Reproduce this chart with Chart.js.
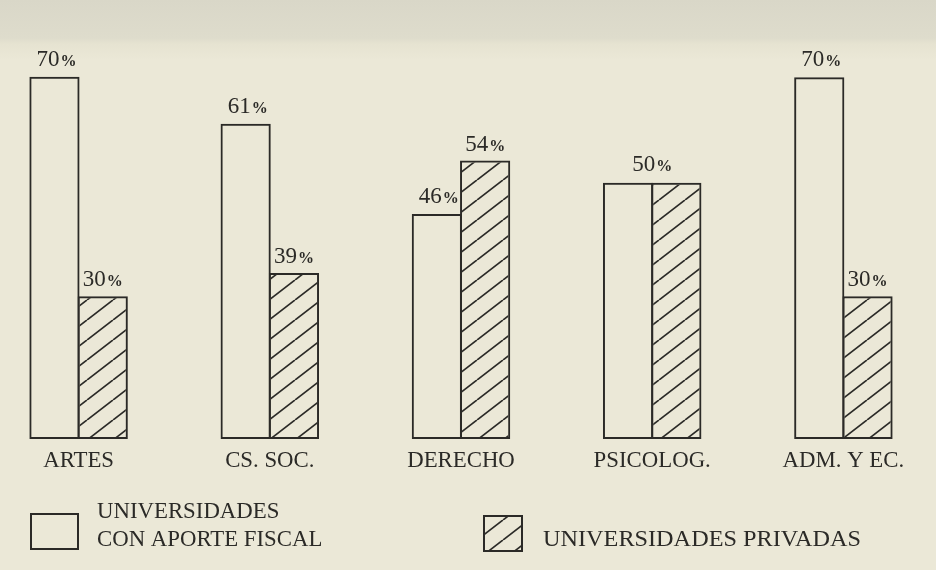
<!DOCTYPE html>
<html>
<head>
<meta charset="utf-8">
<script src="https://cdn.jsdelivr.net/npm/chart.js@4.4.1/dist/chart.umd.min.js"></script>
<style>
  html, body { margin: 0; padding: 0; width: 936px; height: 570px; overflow: hidden; }
  body { background: linear-gradient(to bottom, #d9d7c8 0px, #dedccc 38px, #e6e3d1 44px, #ebe8d7 60px, #ebe8d7 100%); }
  #wrap { position: absolute; left: -17px; top: 0; width: 956px; height: 570px; }
</style>
</head>
<body>
<div id="wrap"><canvas id="chart" width="956" height="570"></canvas></div>
<script>
const categories = ['ARTES', 'CS. SOC.', 'DERECHO', 'PSICOLOG.', 'ADM. Y EC.'];

// percentages printed on the original
const fiscalPct = [70, 61, 46, 50, 70];
const privadaPct = [30, 39, 54, 50, 30];
const sharedLabel = [false, false, false, true, false];

// bar heights as drawn in the original (it is not drawn to scale), in % units
const fiscalDrawn = [70, 60.9, 43.5, 49.5, 69.9];
const privadaDrawn = [27.6, 32.1, 53.8, 49.5, 27.6];

const legendFiscal = ['UNIVERSIDADES', 'CON APORTE FISCAL'];
const legendPrivada = ['UNIVERSIDADES PRIVADAS'];

const INK = '#2b2a27';
const SERIF = '"Liberation Serif", "DejaVu Serif", serif';
const SHIFT = 17; // canvas sits 17px left of the page

const ctx = document.getElementById('chart').getContext('2d');

function makeHatch() {
  const w = 26, h = 20;
  const c = document.createElement('canvas');
  c.width = w; c.height = h;
  const g = c.getContext('2d');
  g.strokeStyle = INK;
  g.lineWidth = 1.7;
  for (const dx of [-w, 0, w]) {
    g.beginPath();
    g.moveTo(dx, h);
    g.lineTo(dx + w, 0);
    g.stroke();
  }
  return ctx.createPattern(c, 'repeat');
}
const hatch = makeHatch();

function drawPct(c, v, x, y) {
  const num = String(v);
  c.font = '23px ' + SERIF;
  const w1 = c.measureText(num).width;
  c.font = 'bold 16px ' + SERIF;
  const w2 = c.measureText('%').width;
  const x0 = x - (w1 + w2 + 1) / 2;
  c.textAlign = 'left';
  c.font = '23px ' + SERIF;
  c.fillText(num, x0, y);
  c.font = 'bold 16px ' + SERIF;
  c.fillText('%', x0 + w1 + 1, y);
}

function squeezedText(c, text, x, y, align, sx) {
  c.save();
  c.translate(x, y);
  c.scale(sx, 1);
  c.textAlign = align;
  c.fillText(text, 0, 0);
  c.restore();
}

const textPlugin = {
  id: 'textPlugin',
  afterDatasetsDraw(chart) {
    const c = chart.ctx;
    const m0 = chart.getDatasetMeta(0);
    const m1 = chart.getDatasetMeta(1);
    c.save();
    c.fillStyle = INK;
    c.textBaseline = 'alphabetic';

    // value labels over the bars
    for (let i = 0; i < categories.length; i++) {
      const a = m0.data[i], b = m1.data[i];
      if (sharedLabel[i]) {
        drawPct(c, fiscalPct[i], (a.x + b.x) / 2, Math.min(a.y, b.y) - 12);
      } else {
        drawPct(c, fiscalPct[i], a.x + 2, a.y - 11);
        drawPct(c, privadaPct[i], b.x, b.y - 10);
      }
    }

    // category names under each pair
    c.font = '24px ' + SERIF;
    const xs = chart.scales.x;
    for (let i = 0; i < categories.length; i++) {
      squeezedText(c, categories[i], xs.getPixelForValue(i), 467, 'center', 0.95);
    }

    // legend
    c.strokeStyle = INK;
    c.lineWidth = 2;
    c.strokeRect(31 + SHIFT, 514, 47, 35);
    squeezedText(c, legendFiscal[0], 97 + SHIFT, 518, 'left', 0.95);
    squeezedText(c, legendFiscal[1], 97 + SHIFT, 546, 'left', 0.95);

    c.fillStyle = hatch;
    c.fillRect(484 + SHIFT, 516, 38, 35);
    c.strokeRect(484 + SHIFT, 516, 38, 35);
    c.fillStyle = INK;
    squeezedText(c, legendPrivada[0], 543 + SHIFT, 546, 'left', 1.01);
    c.restore();
  }
};

new Chart(ctx, {
  type: 'bar',
  data: {
    labels: categories,
    datasets: [
      {
        label: 'Universidades con aporte fiscal',
        data: fiscalDrawn,
        backgroundColor: 'rgba(0,0,0,0)',
        borderColor: INK,
        borderWidth: 2,
        borderSkipped: false
      },
      {
        label: 'Universidades privadas',
        data: privadaDrawn,
        backgroundColor: hatch,
        borderColor: INK,
        borderWidth: 2,
        borderSkipped: false
      }
    ]
  },
  options: {
    responsive: false,
    animation: false,
    layout: { padding: { top: 25, bottom: 131, left: 0, right: 0 } },
    datasets: { bar: { categoryPercentage: 0.505, barPercentage: 1.04 } },
    plugins: { legend: { display: false }, tooltip: { enabled: false } },
    scales: {
      x: { display: false, offset: true },
      y: { display: false, min: 0, max: 80 }
    }
  },
  plugins: [textPlugin]
});
</script>
</body>
</html>
